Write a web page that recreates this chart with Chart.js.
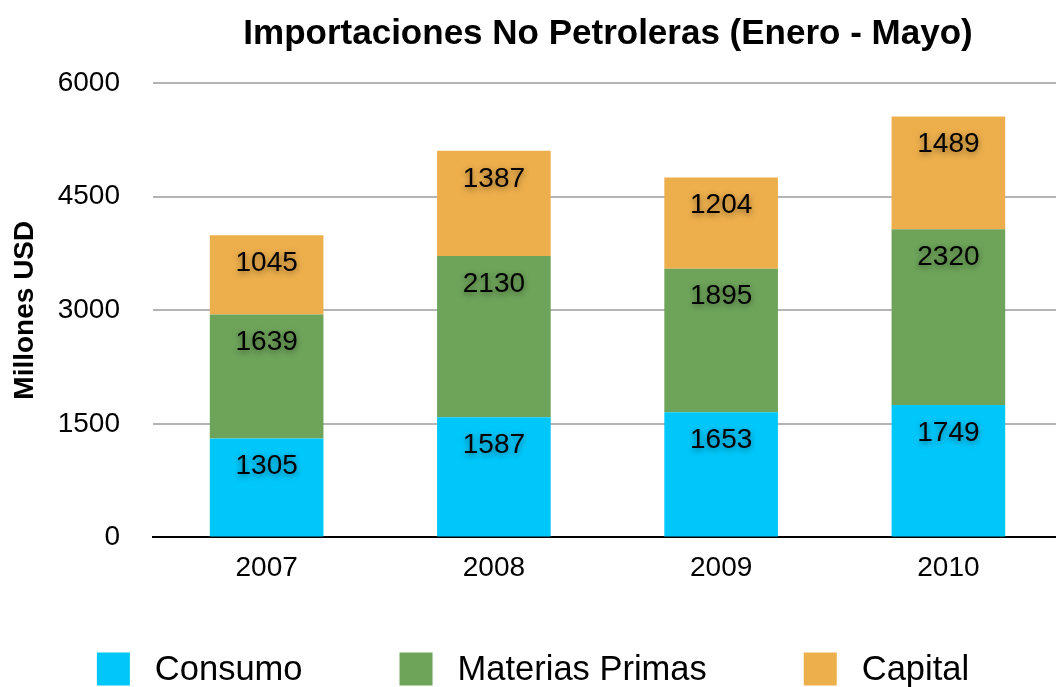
<!DOCTYPE html>
<html>
<head>
<meta charset="utf-8">
<script src="https://cdn.jsdelivr.net/npm/chart.js@4/dist/chart.umd.min.js"></script>
<style>
  html, body { margin: 0; padding: 0; background: #fff; overflow: hidden; }
  #wrap { width: 1056px; height: 687px; overflow: hidden; }
</style>
</head>
<body>
<div id="wrap"><canvas id="myChart" width="1062" height="687"></canvas></div>
<script>
	var years = ["2007", "2008", "2009", "2010"];
	var consumo = [1305, 1587, 1653, 1749];
	var materiasPrimas = [1639, 2130, 1895, 2320];
	var capital = [1045, 1387, 1204, 1489];
	var yTicks = [0, 1500, 3000, 4500, 6000];

	var FONT = "'Liberation Sans', Arial, Helvetica, sans-serif";
	var PAGE_W = 1056;

	// title drawn over the plot area
	var titlePlugin = {
		id: 'plotTitle',
		afterDraw: function(chart){
			var c = chart.ctx;
			c.save();
			c.font = "bold 35px " + FONT;
			c.fillStyle = "#000";
			c.textAlign = "center";
			c.textBaseline = "middle";
			c.fillText("Importaciones No Petroleras (Enero - Mayo)", 608, 34);
			c.restore();
		}
	};

	// legend drawn by hand so the item gaps match
	var legendPlugin = {
		id: 'bottomLegend',
		afterDraw: function(chart){
			var c = chart.ctx;
			var box = 33, gapText = 25, gapItem = 97, y = 669;
			c.save();
			c.font = "34.5px " + FONT;
			c.textBaseline = "middle";
			var items = chart.data.datasets.map(function(ds){
				return { text: ds.label, color: ds.backgroundColor, w: box + gapText + c.measureText(ds.label).width };
			});
			var total = items.reduce(function(s, it){ return s + it.w; }, 0) + gapItem * (items.length - 1);
			var x = (PAGE_W - total) / 2 + 5;
			items.forEach(function(it){
				c.fillStyle = it.color;
				c.fillRect(x, y - box / 2, box, box);
				c.fillStyle = "#000";
				c.fillText(it.text, x + box + gapText, y + 1);
				x += it.w + gapItem;
			});
			c.restore();
		}
	};

	// value labels near the top of each segment, with a soft shadow
	var labelPlugin = {
		id: 'segLabels',
		afterDatasetsDraw: function(chart){
			var c = chart.ctx;
			c.save();
			c.font = "28px " + FONT;
			c.fillStyle = "#000";
			c.textAlign = "center";
			c.textBaseline = "middle";
			c.shadowColor = "rgba(0,0,0,0.45)";
			c.shadowBlur = 6;
			c.shadowOffsetY = 2;
			chart.data.datasets.forEach(function(ds, i){
				chart.getDatasetMeta(i).data.forEach(function(bar, j){
					c.fillText(String(ds.data[j]), bar.x, bar.y + 28);
				});
			});
			c.restore();
		}
	};

	var ctx = document.getElementById("myChart");
	var myChart = new Chart(ctx, {
		type: 'bar',
		data: {
			labels: years,
			datasets: [{
				label: 'Consumo',
				data: consumo,
				backgroundColor: 'rgb(0,199,250)'
			},{
				label: 'Materias Primas',
				data: materiasPrimas,
				backgroundColor: 'rgb(110,164,90)'
			},{
				label: 'Capital',
				data: capital,
				backgroundColor: 'rgb(237,175,76)'
			}]
		},
		options: {
			responsive: false,
			animation: false,
			devicePixelRatio: 1,
			layout: { padding: { top: 83, right: 0, left: 0, bottom: 88 } },
			datasets: { bar: { categoryPercentage: 0.5, barPercentage: 1 } },
			plugins: {
				title: { display: false },
				tooltip: { enabled: false },
				legend: { display: false }
			},
			scales: {
				x: {
					stacked: true,
					grid: { display: false, drawTicks: false },
					border: { display: true, color: '#000', width: 2 },
					ticks: { color: '#000', font: { family: FONT, size: 28 }, padding: 14 }
				},
				y: {
					stacked: true,
					min: 0, max: 6000,
					afterBuildTicks: function(scale){
						scale.ticks = yTicks.map(function(v){ return { value: v }; });
					},
					afterFit: function(scale){ scale.width = 153; },
					grid: { color: '#b4b4b4', lineWidth: 2, drawTicks: false },
					border: { display: false },
					ticks: {
						color: '#000',
						font: { family: FONT, size: 28 },
						padding: 33,
						callback: function(v){ return String(v); }
					},
					title: {
						display: true,
						text: 'Millones USD',
						color: '#000',
						font: { family: FONT, size: 28, weight: 'bold' },
						padding: { top: 8, bottom: 0 }
					}
				}
			}
		},
		plugins: [titlePlugin, labelPlugin, legendPlugin]
	});
</script>
</body>
</html>
